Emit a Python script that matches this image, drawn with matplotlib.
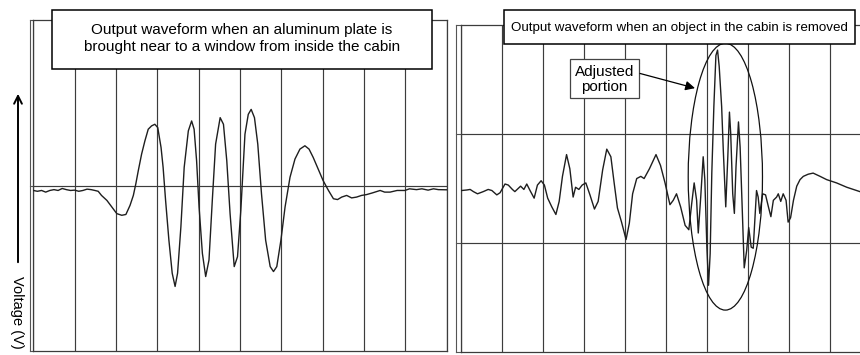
import numpy as np
import matplotlib
matplotlib.use("Agg")
import matplotlib.pyplot as plt
from matplotlib import font_manager
from matplotlib.patches import Rectangle, Ellipse, FancyArrowPatch

plt.rcParams['font.family'] = ['Liberation Sans', 'DejaVu Sans']

# --- data (x in divisions, y in volts, arbitrary) ---
left_t = [0.0, 0.1, 0.2, 0.3, 0.4, 0.5, 0.6, 0.7, 0.8, 0.9, 1.0, 1.1, 1.2, 1.3, 1.4,
          1.49, 1.57, 1.65, 1.78, 1.90, 2.02, 2.14, 2.24, 2.34, 2.42, 2.48, 2.54, 2.62,
          2.70, 2.78, 2.86, 2.94, 3.01, 3.09, 3.14, 3.20, 3.28, 3.36, 3.43, 3.49, 3.57,
          3.65, 3.75, 3.83, 3.89, 3.95, 4.01, 4.09, 4.17, 4.25, 4.33, 4.41, 4.52, 4.60,
          4.68, 4.76, 4.86, 4.94, 5.02, 5.12, 5.20, 5.27, 5.35, 5.43, 5.52, 5.62, 5.73,
          5.81, 5.89, 5.99, 6.09, 6.21, 6.33, 6.45, 6.57, 6.67, 6.77, 6.89, 7.01, 7.14,
          7.26, 7.36, 7.46, 7.58, 7.70, 7.82, 7.94, 8.06, 8.20, 8.39, 8.50, 8.63, 8.80,
          8.99, 9.10, 9.27, 9.40, 9.55, 9.68, 9.80, 10.0]
left_v = [-0.030, -0.035, -0.030, -0.040, -0.030, -0.025, -0.030, -0.018, -0.025, -0.030,
          -0.028, -0.035, -0.030, -0.022, -0.025, -0.030, -0.035, -0.060, -0.090, -0.130,
          -0.170, -0.180, -0.175, -0.120, -0.060, 0.010, 0.090, 0.190, 0.270, 0.340,
          0.360, 0.370, 0.350, 0.230, 0.110, -0.090, -0.330, -0.530, -0.610, -0.530,
          -0.250, 0.110, 0.330, 0.390, 0.340, 0.150, -0.130, -0.410, -0.550, -0.450,
          -0.090, 0.250, 0.410, 0.370, 0.150, -0.170, -0.490, -0.430, -0.150, 0.310,
          0.430, 0.460, 0.410, 0.250, -0.050, -0.330, -0.490, -0.520, -0.490, -0.330,
          -0.130, 0.050, 0.160, 0.220, 0.240, 0.220, 0.170, 0.100, 0.030, -0.030,
          -0.080, -0.085, -0.070, -0.060, -0.075, -0.070, -0.060, -0.055, -0.045, -0.030,
          -0.040, -0.040, -0.030, -0.030, -0.020, -0.025, -0.020, -0.028, -0.020, -0.025,
          -0.026]

right_t = [0.02, 0.15, 0.23, 0.31, 0.41, 0.55, 0.67, 0.76, 0.88, 0.96, 1.08, 1.16, 1.26,
           1.32, 1.46, 1.54, 1.61, 1.69, 1.79, 1.87, 1.96, 2.04, 2.12, 2.22, 2.32, 2.40,
           2.48, 2.58, 2.66, 2.74, 2.80, 2.88, 2.96, 3.05, 3.15, 3.26, 3.35, 3.46, 3.56,
           3.66, 3.74, 3.82, 3.92, 4.03, 4.11, 4.19, 4.29, 4.39, 4.47, 4.60, 4.76, 4.87,
           4.98, 5.10, 5.18, 5.26, 5.36, 5.47, 5.56, 5.63, 5.69, 5.75, 5.79, 5.85, 5.91,
           5.95, 6.00, 6.04, 6.08, 6.12, 6.17, 6.22, 6.26, 6.30, 6.36, 6.40, 6.46, 6.51,
           6.55, 6.58, 6.63, 6.67, 6.71, 6.77, 6.81, 6.86, 6.91, 6.97, 7.02, 7.08, 7.13,
           7.16, 7.21, 7.25, 7.29, 7.36, 7.43, 7.50, 7.56, 7.62, 7.70, 7.74, 7.80, 7.86,
           7.93, 7.98, 8.04, 8.11, 8.19, 8.27, 8.35, 8.47, 8.59, 8.76, 8.92, 9.16, 9.41,
           9.73]
right_v = [-0.02, -0.015, -0.01, -0.03, -0.05, -0.03, -0.01, -0.02, -0.06, -0.04, 0.04,
           0.03, -0.01, -0.03, 0.02, -0.01, 0.04, -0.02, -0.09, 0.03, 0.07, 0.03, -0.09,
           -0.17, -0.24, -0.12, 0.11, 0.31, 0.18, -0.08, 0.01, -0.01, 0.03, 0.05, -0.06,
           -0.19, -0.12, 0.17, 0.36, 0.29, 0.05, -0.18, -0.31, -0.47, -0.32, -0.05, 0.09,
           0.11, 0.09, 0.18, 0.31, 0.21, 0.05, -0.15, -0.11, -0.05, -0.17, -0.34, -0.38,
           -0.14, 0.05, -0.11, -0.41, -0.08, 0.29, 0.08, -0.54, -0.89, -0.60, 0.14, 0.75,
           1.22, 1.27, 1.12, 0.75, 0.35, -0.17, 0.29, 0.70, 0.51, -0.05, -0.23, 0.20, 0.61,
           0.38, -0.17, -0.73, -0.57, -0.36, -0.54, -0.55, -0.35, -0.02, -0.08, -0.23,
           -0.05, -0.06, -0.17, -0.26, -0.11, -0.08, -0.05, -0.12, -0.05, -0.11, -0.31,
           -0.27, -0.11, 0.02, 0.08, 0.11, 0.13, 0.14, 0.11, 0.08, 0.05, 0.01, -0.03]

divisions = list(range(11))
left_hlines = [0.0]
right_hlines = [-0.5, 0.5]

W, H = 860, 355
fig = plt.figure(figsize=(W / 100, H / 100), dpi=100)

grid_col = '#3c3c3c'
trace_col = '#1e1e1e'


def px_box(x0, y0, x1, y1):
    """pixel box (top-left origin) -> figure fraction [l, b, w, h]"""
    return [x0 / W, (H - y1) / H, (x1 - x0) / W, (y1 - y0) / H]


def scope_axes(rect, ylim, hlines):
    ax = fig.add_axes(rect)
    ax.set_xlim(0, 10)
    ax.set_ylim(*ylim)
    for d in divisions:
        ax.axvline(d, color=grid_col, lw=0.85, zorder=1)
    for h in hlines:
        ax.axhline(h, color=grid_col, lw=0.85, zorder=1)
    ax.set_xticks([])
    ax.set_yticks([])
    for s in ax.spines.values():
        s.set_color(grid_col)
        s.set_linewidth(0.9)
    return ax


def bracket(ax, gap_px, levels):
    w_px = ax.get_position().width * W
    g = gap_px / w_px
    kw = dict(transform=ax.transAxes, clip_on=False, color='#555555', lw=0.8)
    ax.plot([-g, -g], [0, 1], **kw)
    for lv in levels:
        ax.plot([-g, 0], [lv, lv], **kw)


# left scope
axl = scope_axes(px_box(33.3, 20, 446.7, 351), (-1, 1), left_hlines)
axl.plot(left_t, left_v, color=trace_col, lw=1.0, zorder=3)
bracket(axl, 3, [0, 0.5, 1])

# right scope (runs off the right edge of the page)
axr = scope_axes(px_box(460.7, 25, 871.0, 351.7), (-1.5, 1.5), right_hlines)
axr.plot(right_t, right_v, color=trace_col, lw=1.0, zorder=3)
bracket(axr, 5, [0, 1 / 3, 2 / 3, 1])

axr.add_patch(Ellipse((6.45, 0.107), 1.81, 2.45, fill=False, ec='#111111', lw=0.9, zorder=4))
axr.add_patch(Rectangle((2.67, 0.827), 1.68, 0.358, fc='white', ec='#444444', lw=0.9, zorder=5))
axr.text(3.51, 1.0, 'Adjusted\nportion', ha='center', va='center', fontsize=11,
         linespacing=1.1, zorder=6)
axr.annotate('', xy=(5.71, 0.92), xytext=(4.37, 1.055),
             arrowprops=dict(arrowstyle='-|>', color='black', lw=0.9,
                             mutation_scale=14, shrinkA=0, shrinkB=0), zorder=6)

# title boxes
for rect in (px_box(52.3, 10, 431.7, 69.3), px_box(504.3, 10, 855, 44.3)):
    fig.add_artist(Rectangle(rect[:2], rect[2], rect[3], transform=fig.transFigure,
                             fc='white', ec='black', lw=1.1, zorder=10))

fig.text(242 / W, (H - 38.5) / H,
         'Output waveform when an aluminum plate is\nbrought near to a window from inside the cabin',
         ha='center', va='center', fontsize=11, linespacing=1.2, zorder=11)

names = {f.name for f in font_manager.fontManager.ttflist}
if 'Liberation Sans Narrow' in names:
    rfam, rsize = 'Liberation Sans Narrow', 11.5
else:
    rfam, rsize = 'Liberation Sans', 9.6
fig.text(679.7 / W, (H - 27.5) / H, 'Output waveform when an object in the cabin is removed',
         ha='center', va='center', fontsize=rsize, family=rfam, zorder=11)

# y label with arrow
fig.add_artist(FancyArrowPatch(
    (18 / W, (H - 265) / H), (18 / W, (H - 91) / H), transform=fig.transFigure,
    arrowstyle='->', mutation_scale=14, lw=1.4, color='black'))
fig.text(17 / W, (H - 312) / H, 'Voltage (V)', rotation=-90, ha='center', va='center',
         fontsize=10.5)

fig.savefig('out.png', dpi=100)
